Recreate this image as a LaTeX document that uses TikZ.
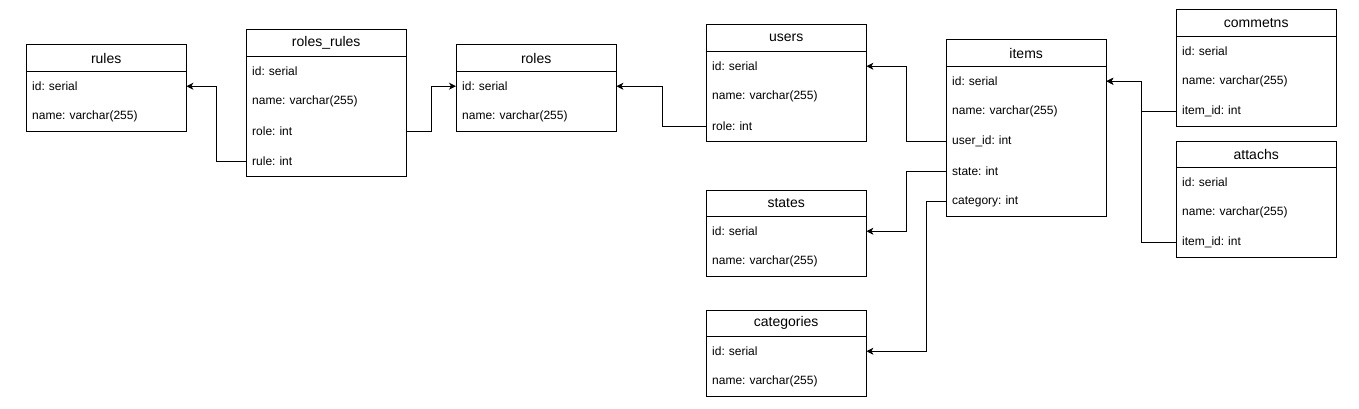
\documentclass[tikz,border=0pt]{standalone}
\usepackage{fontspec}
\setmainfont{Liberation Sans}
\usetikzlibrary{arrows.meta}
\tikzset{
  ttl/.style={minimum width=160pt, minimum height=26pt, inner sep=0pt, anchor=north west, font=\fontsize{14}{16}\selectfont},
  rowtxt/.style={minimum width=160pt, minimum height=30pt, text width=148pt, align=left, inner sep=0pt, anchor=north west, font=\fontsize{12}{14}\selectfont},
  tblbox/.style={draw, line width=1pt},
  fk/.style={line width=1pt, -{Stealth[length=7pt,width=7pt,inset=2pt]}}
}
\newcommand\tblframe[2]{%
  \draw[tblbox] (#1.north west) rectangle (#2.south east);
  \draw[tblbox] (#1.south west) -- (#1.south east);
}
\frenchspacing
\begin{document}
\begin{tikzpicture}[x=1pt,y=-1pt]
\useasboundingbox[fill=white] (0,0) rectangle (1359,409);
% tables
\node[ttl] (rules-t) at (26,45) {rules};
\node[rowtxt] (rules-1) at (26,71) {id: serial};
\node[rowtxt] (rules-2) at (26,101) {name: varchar(255)};
\tblframe{rules-t}{rules-2}

\node[ttl] (rr-t) at (246,30) {roles\_rules};
\node[rowtxt] (rr-1) at (246,56) {id: serial};
\node[rowtxt] (rr-2) at (246,86) {name: varchar(255)};
\node[rowtxt] (rr-3) at (246,116) {role: int};
\node[rowtxt] (rr-4) at (246,146) {rule: int};
\tblframe{rr-t}{rr-4}

\node[ttl] (roles-t) at (456,45) {roles};
\node[rowtxt] (roles-1) at (456,71) {id: serial};
\node[rowtxt] (roles-2) at (456,101) {name: varchar(255)};
\tblframe{roles-t}{roles-2}

\node[ttl] (users-t) at (706,25) {users};
\node[rowtxt] (users-1) at (706,51) {id: serial};
\node[rowtxt] (users-2) at (706,81) {name: varchar(255)};
\node[rowtxt] (users-3) at (706,111) {role: int};
\tblframe{users-t}{users-3}

\node[ttl] (states-t) at (706,190) {states};
\node[rowtxt] (states-1) at (706,216) {id: serial};
\node[rowtxt] (states-2) at (706,246) {name: varchar(255)};
\tblframe{states-t}{states-2}

\node[ttl] (cat-t) at (706,310) {categories};
\node[rowtxt] (cat-1) at (706,336) {id: serial};
\node[rowtxt] (cat-2) at (706,366) {name: varchar(255)};
\tblframe{cat-t}{cat-2}

\node[ttl] (items-t) at (946,40) {items};
\node[rowtxt] (items-1) at (946,66) {id: serial};
\node[rowtxt] (items-2) at (946,96) {name: varchar(255)};
\node[rowtxt] (items-3) at (946,126) {user\_id: int};
\node[rowtxt] (items-4) at (946,156) {state: int};
\node[rowtxt] (items-5) at (946,186) {category: int};
\tblframe{items-t}{items-5}

\node[ttl] (com-t) at (1176,10) {commetns};
\node[rowtxt] (com-1) at (1176,36) {id: serial};
\node[rowtxt] (com-2) at (1176,66) {name: varchar(255)};
\node[rowtxt] (com-3) at (1176,96) {item\_id: int};
\tblframe{com-t}{com-3}

\node[ttl] (att-t) at (1176,141) {attachs};
\node[rowtxt] (att-1) at (1176,167) {id: serial};
\node[rowtxt] (att-2) at (1176,197) {name: varchar(255)};
\node[rowtxt] (att-3) at (1176,227) {item\_id: int};
\tblframe{att-t}{att-3}

% connectors
\draw[fk] (rr-4.west) -- ++(-30,0) |- (rules-1.east);
\draw[fk] (rr-3.east) -- ++(25,0) |- (roles-1.west);
\draw[fk] (users-3.west) -- ++(-44,0) |- (roles-1.east);
\draw[fk] (items-3.west) -- ++(-40,0) |- (users-1.east);
\draw[fk] (items-4.west) -- ++(-40,0) |- (states-1.east);
\draw[fk] (items-5.west) -- ++(-20,0) |- (cat-1.east);
\draw[fk] (com-3.west) -- ++(-35,0) |- (items-1.east);
\draw[fk] (att-3.west) -- ++(-35,0) |- (items-1.east);
\end{tikzpicture}
\end{document}
